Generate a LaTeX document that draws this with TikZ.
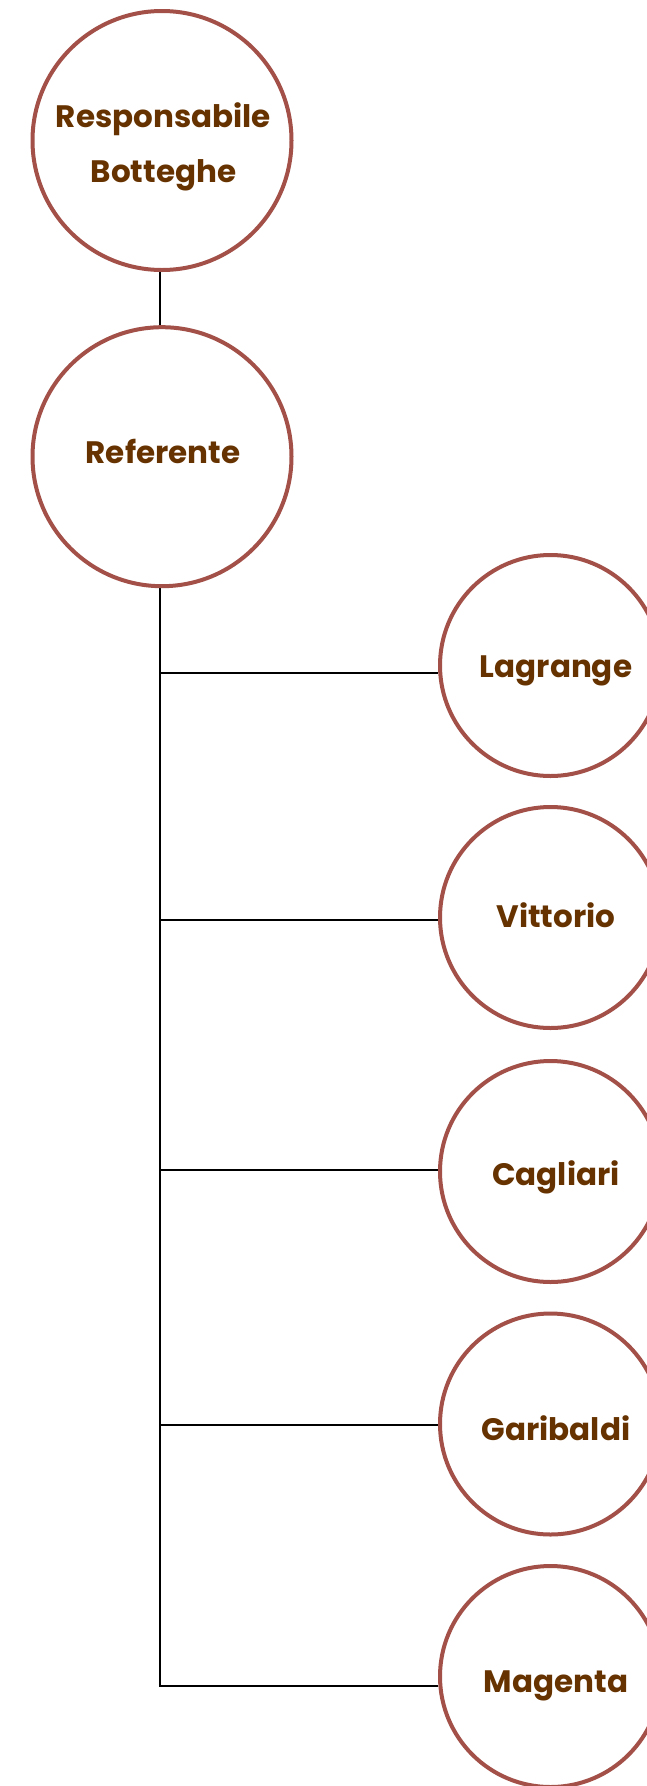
\documentclass[tikz,border=0pt]{standalone}
\usepackage{fontspec}
\setmainfont{Poppins}
\usetikzlibrary{backgrounds}
\definecolor{ringred}{RGB}{163,80,72}
\definecolor{txtbrown}{RGB}{102,51,0}
\tikzset{
  bigcirc/.style={circle, draw=ringred, line width=4pt, fill=white, minimum size=259pt, inner sep=0pt},
  smallcirc/.style={circle, draw=ringred, line width=4pt, fill=white, minimum size=221pt, inner sep=0pt},
  lbl/.style={anchor=base, inner sep=0pt, font=\fontsize{31}{55}\selectfont\bfseries, text=txtbrown},
  link/.style={draw=black, line width=2pt}
}
\begin{document}
\begin{tikzpicture}[x=1pt,y=-1pt]
\useasboundingbox (0,0) rectangle (646,1786);
\node[bigcirc] (resp) at (162,140.5) {};
\node[bigcirc] (ref) at (162,456.7) {};
\node[smallcirc] (lag) at (550.5,665.5) {};
\node[smallcirc] (vit) at (550.5,917.5) {};
\node[smallcirc] (cag) at (550.5,1171.5) {};
\node[smallcirc] (gar) at (550.5,1424) {};
\node[smallcirc] (mag) at (550.5,1676.5) {};
\node[lbl] (respa) at (163.5,127) {Responsabile};
\node[lbl] (respb) at (163.5,182) {Botteghe};
\node[lbl] (reft) at (163,463) {Referente};
\node[lbl] (lagt) at (556,677) {Lagrange};
\node[lbl] (vitt) at (556,927) {Vittorio};
\node[lbl] (cagt) at (556,1185) {Cagliari};
\node[lbl] (gart) at (556,1440) {Garibaldi};
\node[lbl] (magt) at (556,1692) {Magenta};
\coordinate (t0) at (160,272);
\coordinate (t1) at (160,325);
\coordinate (t2) at (160,588);
\coordinate (j1) at (160,673);
\coordinate (j2) at (160,920);
\coordinate (j3) at (160,1170);
\coordinate (j4) at (160,1425);
\coordinate (j5) at (160,1686);
\begin{scope}[on background layer]
\fill[white] (0,0) rectangle (646,1786);
\draw[link] (t0) -- (t1);
\draw[link] (t2) -- (j5) -- (j5 -| mag.west);
\draw[link] (j1) -- (j1 -| lag.west);
\draw[link] (j2) -- (j2 -| vit.west);
\draw[link] (j3) -- (j3 -| cag.west);
\draw[link] (j4) -- (j4 -| gar.west);
\end{scope}
\end{tikzpicture}
\end{document}
